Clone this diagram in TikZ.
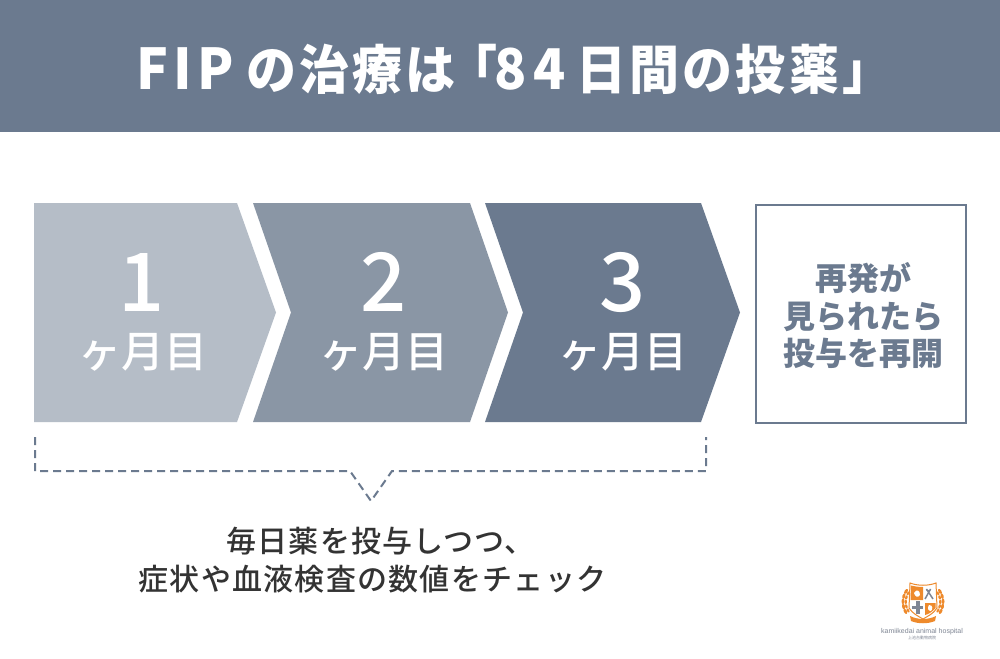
\documentclass[tikz,border=0pt]{standalone}
\usepackage{graphicx}
\usepackage{fontspec}
\setmainfont{Noto Sans CJK JP}
\newfontfamily\jpm{Noto Sans CJK JP Medium}
\newfontfamily\logofont{Liberation Sans}
\definecolor{slate}{HTML}{6B7A8F}
\definecolor{mid}{HTML}{8A96A5}
\definecolor{light}{HTML}{B5BDC7}
\definecolor{ink}{HTML}{333333}
\definecolor{logoor}{HTML}{EE8A2C}
\definecolor{logogr}{HTML}{7F8694}
\newcommand{\lat}[1]{{\fontsize{53}{53}\selectfont\addfontfeatures{LetterSpace=12}#1}}
\newcommand{\latb}[1]{{\fontsize{53}{53}\selectfont\addfontfeatures{LetterSpace=10}#1}}
\tikzset{
 x=1pt,y=-1pt,
 txt/.style={inner sep=0pt,align=center},
 num/.style={txt,white,font=\jpm\fontsize{81}{81}\selectfont},
 mon/.style={txt,white,font=\jpm\fontsize{43}{43}\selectfont},
}
\begin{document}
\begin{tikzpicture}
\useasboundingbox (0,0) rectangle (1000,658);
\fill[white] (0,0) rectangle (1000,658);
\fill[slate] (0,0) rectangle (1000,132);
\node[txt,white,anchor=base west] (title) at (136,90) {\scalebox{1}[1.06]{\bfseries\fontsize{50}{50}\selectfont\addfontfeatures{LetterSpace=6}\latb{FIP}\kern13ptの治療は\kern-8pt「\kern-3pt\lat{84}\kern11pt日間の投\kern4pt薬」}};
\fill[light] (34,203)--(237,203)--(276,312.5)--(237,422)--(34,422)--cycle;
\fill[mid] (253,203)--(470,203)--(508,312.5)--(470,422)--(253,422)--(291,312.5)--cycle;
\fill[slate] (485,203)--(701,203)--(740,312.5)--(701,422)--(485,422)--(523,312.5)--cycle;
\node[num] (n1) at (142,282) {1};
\node[num] (n2) at (384,282) {2};
\node[num] (n3) at (623,282) {3};
\node[mon] (m1) at (143,352) {ヶ月目};
\node[mon] (m2) at (384,352) {ヶ月目};
\node[mon] (m3) at (623,352) {ヶ月目};
\node[draw=slate,line width=2.2pt,fill=white,minimum width=210pt,minimum height=218pt,inner sep=0pt,anchor=north west] (box) at (754.5,203.5) {};
\node[txt,slate,font=\fontsize{32}{37.5}\selectfont\bfseries] (boxt) at (863,316) {再発が\\見られたら\\投与を再開};
\coordinate (b1) at (35,437);
\coordinate (b2) at (35,471);
\coordinate (b3) at (350,471);
\coordinate (b4) at (371,501);
\coordinate (b5) at (392,471);
\coordinate (b6) at (706,471);
\coordinate (b7) at (706,437);
\draw[slate,line width=2pt,dash pattern=on 8pt off 5pt] (b1)--(b2)--(b3)--(b4)--(b5)--(b6)--(b7);
\node[txt,ink,font=\jpm\fontsize{30}{38}\selectfont\addfontfeatures{LetterSpace=4.2}] (cap) at (372.5,560) {\kern16pt 毎日薬を投与しつつ、\\症状や血液検査の数値をチェック};
% logo
\begin{scope}[shift={(923,602)}]
 \fill[white,draw=logoor,line width=1pt] (-13,-19) .. controls (-5,-16) and (5,-16) .. (13,-19) -- (14,6) .. controls (10,12) and (5,14) .. (0,17) .. controls (-5,14) and (-10,12) .. (-14,6) -- cycle;
 \fill[logoor] (-12,-16.5) .. controls (-8,-15.5) and (-4,-15) .. (0,-15) -- (0,-2) -- (-12.5,-2) -- cycle;
 \fill[logoor] (2,1) -- (12.5,1) -- (12.5,6) .. controls (9,10) and (6,12) .. (2,13) -- cycle;
 \fill[white] (-9,-9) .. controls (-6,-14) and (-3,-11) .. (-3,-7) .. controls (-5,-4) and (-8,-5) .. cycle;
 \fill[white] (6,3) .. controls (10,3) and (10,7) .. (8,9) .. controls (5,9) and (4,6) .. cycle;
 \fill[logogr] (-7.5,-1) rectangle (-3.5,12);
 \fill[logogr] (-11,3.5) rectangle (0,7);
 \draw[logogr,line width=1.5pt] (2,-3) -- (7.5,-13) arc (0:180:2) -- (10,-3);
 \foreach \s in {-1,1}{
  \begin{scope}[xscale=\s]
  \foreach \a in {-32,-17,-2,13,28}{
   \fill[logoor,rotate=\a] (-20,0) ellipse (1.5pt and 2.8pt);
   \fill[logoor,rotate=\a] (-17.2,0.5) ellipse (1.2pt and 2.2pt);
  }
  \end{scope}
 }
 \fill[logoor] (-13,14) .. controls (-5,18) and (5,18) .. (13,14) -- (12,19) .. controls (5,22) and (-5,22) .. (-12,19) -- cycle;
\end{scope}
\node[txt,logogr,font=\logofont\fontsize{7}{7}\selectfont] (logo1) at (922,631.5) {kamiikedai animal hospital};
\node[txt,logogr,font=\fontsize{4}{4}\selectfont] (logo2) at (922,638) {上池台動物病院};
\end{tikzpicture}
\end{document}
